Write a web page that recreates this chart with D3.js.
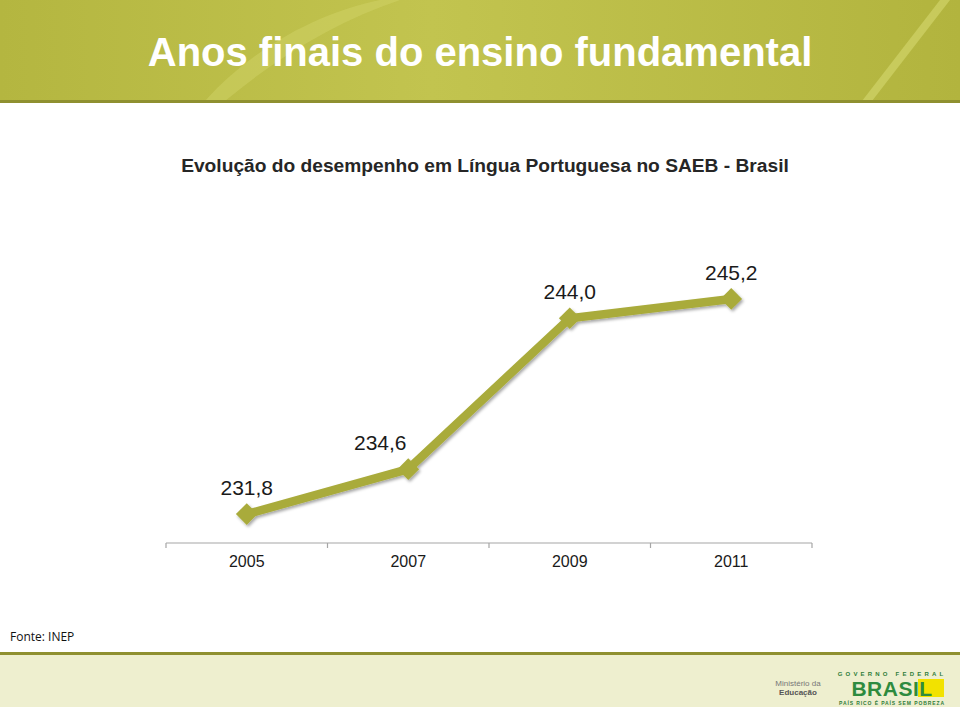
<!DOCTYPE html>
<html lang="pt">
<head>
  <meta charset="UTF-8" />
  <title>Anos finais do ensino fundamental</title>
  <script src="https://d3js.org/d3.v7.min.js"></script>
  <style>
    body { margin: 0; background: #fff; }
    svg { display: block; font-family: "Liberation Sans", Arial, sans-serif; }
  </style>
</head>
<body>
  <div id="chart"></div>
  <script>
    // ----- Data -----
    const years  = ["2005", "2007", "2009", "2011"];
    const scores = [231.8, 234.6, 244.0, 245.2];
    const scoreLabels = ["231,8", "234,6", "244,0", "245,2"];

    const W = 960, H = 707;
    const svg = d3.select('#chart').append('svg')
      .attr('width', W).attr('height', H);

    const defs = svg.append('defs');

    // header gradient
    const hg = defs.append('linearGradient').attr('id', 'hdr')
      .attr('x1', 0).attr('y1', 0).attr('x2', 1).attr('y2', 0);
    hg.append('stop').attr('offset', '0%').attr('stop-color', '#b4b640');
    hg.append('stop').attr('offset', '45%').attr('stop-color', '#c2c44f');
    hg.append('stop').attr('offset', '100%').attr('stop-color', '#b2b43e');

    const shadow = defs.append('filter').attr('id', 'shadow')
      .attr('x', '-50%').attr('y', '-50%').attr('width', '200%').attr('height', '200%');
    shadow.append('feDropShadow').attr('dx', 1.5).attr('dy', 2).attr('stdDeviation', 1.5)
      .attr('flood-color', '#000').attr('flood-opacity', 0.35);

    // ----- Header band -----
    svg.append('rect').attr('x', 0).attr('y', 0).attr('width', W).attr('height', 101)
      .attr('fill', 'url(#hdr)');
    // soft light streaks
    svg.append('path').attr('d', 'M205,101 C260,40 330,10 380,0 L400,0 C340,20 280,55 225,101 Z')
      .attr('fill', '#d2d46a').attr('opacity', 0.45);
    svg.append('path').attr('d', 'M862,101 L940,0 L950,0 L872,101 Z')
      .attr('fill', '#d6d870').attr('opacity', 0.6);
    svg.append('rect').attr('x', 0).attr('y', 100).attr('width', W).attr('height', 3)
      .attr('fill', '#8f9030');

    svg.append('text')
      .attr('x', 480).attr('y', 66)
      .attr('text-anchor', 'middle')
      .attr('font-size', 40).attr('font-weight', 'bold')
      .attr('fill', '#fff')
      .text('Anos finais do ensino fundamental');

    // subtitle
    svg.append('text')
      .attr('x', 485).attr('y', 172)
      .attr('text-anchor', 'middle')
      .attr('font-size', 19.2).attr('font-weight', 'bold')
      .attr('fill', '#262626')
      .text('Evolução do desempenho em Língua Portuguesa no SAEB - Brasil');

    // ----- Scales -----
    const x = d3.scaleBand().domain(years).range([166, 812]).padding(0);
    const y = d3.scaleLinear().domain([230, 248]).range([543, 254]);

    // ----- Axis -----
    const axisG = svg.append('g');
    axisG.append('line')
      .attr('x1', x.range()[0]).attr('x2', x.range()[1])
      .attr('y1', 543).attr('y2', 543)
      .attr('stroke', '#a6a6a6').attr('stroke-width', 1.2);
    const bounds = years.map(d => x(d)).concat([x.range()[1]]);
    axisG.selectAll('line.tick').data(bounds).join('line')
      .attr('class', 'tick')
      .attr('x1', d => d).attr('x2', d => d)
      .attr('y1', 543).attr('y2', 548)
      .attr('stroke', '#a6a6a6').attr('stroke-width', 1.2);
    axisG.selectAll('text').data(years).join('text')
      .attr('x', d => x(d) + x.bandwidth() / 2)
      .attr('y', 567)
      .attr('text-anchor', 'middle')
      .attr('font-size', 16)
      .attr('fill', '#1a1a1a')
      .text(d => d);

    // ----- Line -----
    const cx = (d, i) => x(years[i]) + x.bandwidth() / 2;
    const line = d3.line().x(cx).y(d => y(d));

    const plot = svg.append('g').attr('filter', 'url(#shadow)');
    plot.append('path')
      .datum(scores)
      .attr('d', line)
      .attr('fill', 'none')
      .attr('stroke', '#a9ab3b')
      .attr('stroke-width', 8.5)
      .attr('stroke-linejoin', 'miter');

    plot.selectAll('path.marker').data(scores).join('path')
      .attr('class', 'marker')
      .attr('d', d3.symbol().type(d3.symbolDiamond2).size(300))
      .attr('transform', (d, i) => `translate(${cx(d, i)},${y(d)})`)
      .attr('fill', '#a9ab3b');

    // value labels
    svg.selectAll('text.val').data(scores).join('text')
      .attr('class', 'val')
      .attr('x', (d, i) => cx(d, i) + (i === 1 ? -28 : 0))
      .attr('y', d => y(d) - 19)
      .attr('text-anchor', 'middle')
      .attr('font-size', 21)
      .attr('fill', '#1a1a1a')
      .text((d, i) => scoreLabels[i]);

    // ----- Footer -----
    svg.append('text')
      .attr('x', 10).attr('y', 641)
      .attr('font-family', '"Open Sans", sans-serif')
      .attr('font-size', 12)
      .attr('fill', '#111')
      .text('Fonte: INEP');

    svg.append('rect').attr('x', 0).attr('y', 652).attr('width', W).attr('height', 3)
      .attr('fill', '#8f9030');
    svg.append('rect').attr('x', 0).attr('y', 655).attr('width', W).attr('height', H - 655)
      .attr('fill', '#eeefcf');

    // ministry text
    svg.append('text').attr('x', 798).attr('y', 686).attr('text-anchor', 'middle')
      .attr('font-size', 8).attr('fill', '#777').text('Ministério da');
    svg.append('text').attr('x', 798).attr('y', 695).attr('text-anchor', 'middle')
      .attr('font-size', 8).attr('font-weight', 'bold').attr('fill', '#555').text('Educação');

    // Brasil logo
    svg.append('text').attr('x', 892).attr('y', 676).attr('text-anchor', 'middle')
      .attr('font-size', 6).attr('font-weight', 'bold').attr('letter-spacing', 3.2)
      .attr('fill', '#2e7d3a').text('GOVERNO FEDERAL');
    svg.append('rect').attr('x', 918).attr('y', 679).attr('width', 26).attr('height', 18)
      .attr('fill', '#f2e200');
    svg.append('text').attr('x', 892).attr('y', 696).attr('text-anchor', 'middle')
      .attr('font-size', 21).attr('font-weight', 'bold')
      .attr('fill', '#2e8b3e').attr('letter-spacing', 0.5)
      .text('BRASIL');
    svg.append('text').attr('x', 892).attr('y', 705).attr('text-anchor', 'middle')
      .attr('font-size', 5).attr('font-weight', 'bold').attr('letter-spacing', 0.9)
      .attr('fill', '#2e7d3a').text('PAÍS RICO É PAÍS SEM POBREZA');
  </script>
</body>
</html>
